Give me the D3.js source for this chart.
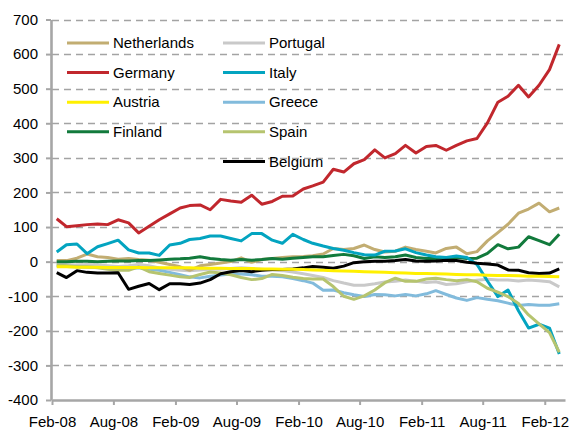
<!DOCTYPE html>
<html>
<head>
<meta charset="utf-8">
<script src="https://cdn.jsdelivr.net/npm/d3@7"></script>
<style>
    body { margin: 0; background: #fff; }
    svg text { font-family: "Liberation Sans", Arial, sans-serif; font-size: 15px; fill: #000; }
</style>
</head>
<body>
<div id="chart"></div>
<script>
// monthly series, first value is Feb-08, last is Mar-12
const startMonth = "Feb-08";
const xTickLabels = ["Feb-08", "Aug-08", "Feb-09", "Aug-09", "Feb-10", "Aug-10", "Feb-11", "Aug-11", "Feb-12"];
const yTickValues = [-400, -300, -200, -100, 0, 100, 200, 300, 400, 500, 600, 700];

const netherlands = [3, 3, 10, 22, 14, 12, 7, 9, 6, 4, -2, -8, -15, -25, -12, -8, -4, 0, 11, -2, 6, 9, 12, 14, 15, 17, 22, 38, 35, 38, 48, 35, 28, 30, 42, 35, 30, 25, 38, 42, 23, 29, 60, 84, 108, 140, 152, 169, 144, 155];
const germany = [124, 101, 104, 107, 109, 107, 121, 112, 83, 102, 121, 138, 155, 162, 164, 150, 180, 175, 172, 192, 166, 174, 189, 190, 210, 219, 230, 267, 259, 283, 295, 323, 300, 312, 336, 314, 333, 336, 322, 336, 349, 356, 401, 461, 478, 510, 476, 510, 555, 628];
const austria = [-15, -15, -16, -16, -16, -17, -17, -17, -17, -18, -18, -18, -18, -18, -19, -19, -19, -20, -20, -20, -21, -21, -22, -22, -23, -24, -25, -26, -27, -28, -29, -30, -31, -32, -33, -34, -34, -35, -36, -37, -38, -38, -39, -40, -40, -41, -42, -42, -43, -44];
const finland = [0, 0, 1, 1, 0, 1, 2, 2, 3, 3, 5, 7, 8, 10, 14, 9, 6, 4, 6, 4, 6, 9, 7, 10, 12, 14, 14, 18, 21, 17, 9, 14, 12, 14, 19, 12, 9, 9, 12, 12, 9, 10, 24, 49, 37, 42, 72, 61, 49, 79];
const portugal = [-5, -8, -10, -8, -10, -12, -14, -12, -8, -12, -18, -22, -25, -26, -24, -22, -22, -20, -18, -20, -22, -24, -26, -30, -35, -40, -46, -55, -62, -68, -68, -64, -59, -57, -53, -57, -60, -58, -66, -64, -58, -54, -51, -53, -53, -56, -53, -55, -58, -73];
const italy = [28, 49, 51, 23, 43, 52, 62, 34, 25, 25, 18, 48, 53, 64, 67, 74, 74, 67, 60, 81, 81, 62, 53, 79, 64, 53, 45, 38, 33, 26, 20, 19, 30, 31, 37, 26, 19, 14, 12, 16, 12, -8, -56, -101, -82, -142, -192, -181, -192, -267];
const greece = [-12, -14, -15, -16, -17, -18, -20, -20, -18, -22, -25, -31, -38, -44, -47, -42, -39, -36, -36, -38, -42, -42, -44, -49, -55, -62, -83, -82, -90, -96, -101, -95, -96, -99, -95, -99, -93, -84, -95, -105, -112, -104, -109, -113, -120, -127, -124, -126, -126, -122];
const spain = [-10, -12, -15, -15, -18, -22, -25, -25, -15, -29, -34, -39, -44, -46, -37, -30, -33, -38, -46, -52, -49, -37, -40, -45, -49, -50, -50, -72, -100, -109, -99, -82, -61, -48, -57, -57, -50, -48, -52, -55, -52, -58, -77, -88, -101, -121, -154, -180, -205, -262];
const belgium = [-32, -46, -26, -31, -33, -33, -32, -80, -71, -63, -81, -64, -64, -66, -62, -52, -35, -29, -26, -29, -25, -23, -23, -21, -18, -14, -16, -19, -13, -3, 0, 1, 1, 3, 6, 2, 1, 2, 4, 3, -2, -5, -7, -10, -24, -25, -32, -34, -33, -21];

const seriesNames = ["Netherlands", "Germany", "Austria", "Finland", "Portugal", "Italy", "Greece", "Spain", "Belgium"];
const seriesColors = ["#c2ad72", "#c1272d", "#fff000", "#127a3c", "#c9c9c9", "#03a4c0", "#82bbdc", "#b6c46f", "#000000"];
const seriesValues = [netherlands, germany, austria, finland, portugal, italy, greece, spain, belgium];
// bottom to top
const drawOrder = ["Portugal", "Greece", "Netherlands", "Finland", "Italy", "Spain", "Belgium", "Austria", "Germany"];

const width = 573;
const height = 435;
const axisColor = "#a6a6a6";

const parseMonth = d3.timeParse("%b-%y");
const firstMonth = parseMonth(startMonth);
const pointDate = i => d3.timeDay.offset(d3.timeMonth.offset(firstMonth, i), 14);

const xScale = d3.scaleTime()
    .domain([firstMonth, d3.timeMonth.offset(firstMonth, 50)])
    .range([52, 565]);

const yScale = d3.scaleLinear()
    .domain([-400, 700])
    .range([400, 19.5]);

const svg = d3.select("#chart")
    .append("svg")
    .attr("width", width)
    .attr("height", height);

// dashed gridlines
svg.append("g")
    .selectAll("line")
    .data(yTickValues.filter(v => v > -400))
    .join("line")
    .attr("x1", 52)
    .attr("x2", 565)
    .attr("y1", d => Math.round(yScale(d)) + 0.5)
    .attr("y2", d => Math.round(yScale(d)) + 0.5)
    .attr("stroke", "#a3a3a3")
    .attr("stroke-width", 1.3)
    .attr("stroke-dasharray", "7,5");

// axes
const yAxis = d3.axisLeft(yScale)
    .tickValues(yTickValues)
    .tickFormat(d => String(d))
    .tickSize(5)
    .tickSizeOuter(0)
    .tickPadding(8);

const xAxis = d3.axisBottom(xScale)
    .tickValues(xTickLabels.map(parseMonth))
    .tickFormat(d3.timeFormat("%b-%y"))
    .tickSize(5)
    .tickSizeOuter(0)
    .tickPadding(11.5);

const gy = svg.append("g")
    .attr("transform", "translate(51,0)")
    .call(yAxis);

const gx = svg.append("g")
    .attr("transform", "translate(0,400)")
    .call(xAxis);

[gx, gy].forEach(g => {
    g.select(".domain").attr("stroke", axisColor).attr("stroke-width", 2.6);
    g.selectAll(".tick line").attr("stroke", axisColor).attr("stroke-width", 2);
    g.selectAll("text").attr("font-size", null).attr("font-family", null);
});

// lines
const line = d3.line()
    .x((d, i) => xScale(pointDate(i)))
    .y(d => yScale(d));

svg.append("g")
    .selectAll("path")
    .data(drawOrder.map(name => seriesNames.indexOf(name)))
    .join("path")
    .attr("d", k => line(seriesValues[k]))
    .attr("fill", "none")
    .attr("stroke", k => seriesColors[k])
    .attr("stroke-width", 3)
    .attr("stroke-linejoin", "round");

// legend, two columns
const legend = svg.append("g")
    .selectAll("g")
    .data(seriesNames)
    .join("g")
    .attr("transform", (d, i) => {
        const col = i < 4 ? 0 : 1;
        const row = i < 4 ? i : i - 4;
        return `translate(${col === 0 ? 67 : 223},${43 + row * 29.6})`;
    });

legend.append("line")
    .attr("x1", 0)
    .attr("x2", 42)
    .attr("stroke", (d, i) => seriesColors[i])
    .attr("stroke-width", 3);

legend.append("text")
    .attr("x", 46)
    .attr("dy", "0.35em")
    .text(d => d);
</script>
</body>
</html>
